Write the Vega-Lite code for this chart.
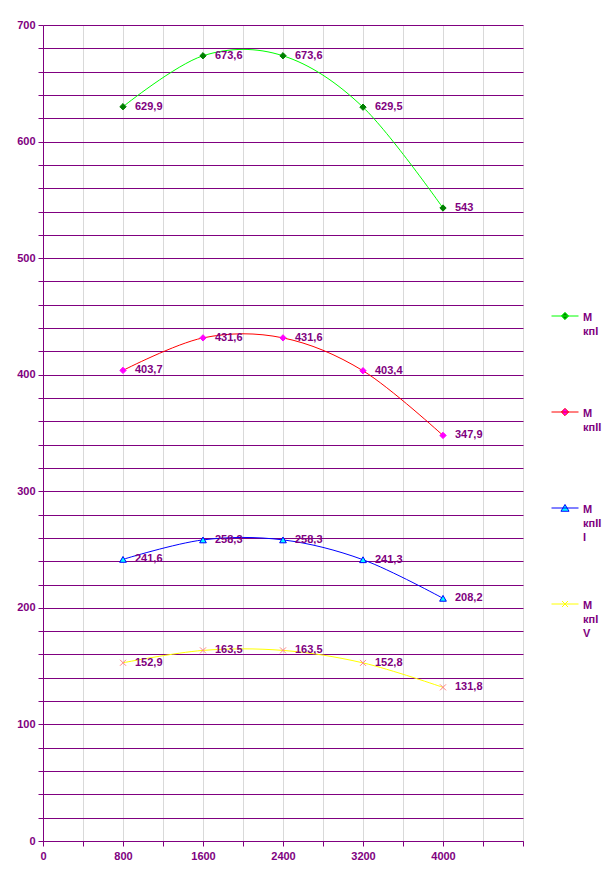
{
  "$schema": "https://vega.github.io/schema/vega-lite/v6.json",
  "autosize": "none",
  "width": 480,
  "height": 816,
  "padding": {"left": 43, "top": 25, "right": 87, "bottom": 43},
  "background": "white",
  "config": {
    "view": {"stroke": null},
    "locale": {"number": {"decimal": ",", "thousands": "", "grouping": [3], "currency": ["", ""]}},
    "font": "Liberation Sans"
  },
  "data": {
    "values": [
      {"series": "М кпI", "x": 800, "y": 629.9},
      {"series": "М кпI", "x": 1600, "y": 673.6},
      {"series": "М кпI", "x": 2400, "y": 673.6},
      {"series": "М кпI", "x": 3200, "y": 629.5},
      {"series": "М кпI", "x": 4000, "y": 543},
      {"series": "М кпII", "x": 800, "y": 403.7},
      {"series": "М кпII", "x": 1600, "y": 431.6},
      {"series": "М кпII", "x": 2400, "y": 431.6},
      {"series": "М кпII", "x": 3200, "y": 403.4},
      {"series": "М кпII", "x": 4000, "y": 347.9},
      {"series": "М кпIII", "x": 800, "y": 241.6},
      {"series": "М кпIII", "x": 1600, "y": 258.3},
      {"series": "М кпIII", "x": 2400, "y": 258.3},
      {"series": "М кпIII", "x": 3200, "y": 241.3},
      {"series": "М кпIII", "x": 4000, "y": 208.2},
      {"series": "М кпIV", "x": 800, "y": 152.9},
      {"series": "М кпIV", "x": 1600, "y": 163.5},
      {"series": "М кпIV", "x": 2400, "y": 163.5},
      {"series": "М кпIV", "x": 3200, "y": 152.8},
      {"series": "М кпIV", "x": 4000, "y": 131.8}
    ]
  },
  "encoding": {
    "x": {
      "field": "x", "type": "quantitative",
      "scale": {"domain": [0, 4800], "nice": false, "zero": true},
      "axis": {
        "title": null,
        "values": [0, 400, 800, 1200, 1600, 2000, 2400, 2800, 3200, 3600, 4000, 4400, 4800],
        "format": "d",
        "labelExpr": "(datum.value % 800 == 0 && datum.value < 4800) ? datum.label : ''",
        "grid": true, "gridColor": "#D9D9D9", "gridWidth": 1,
        "domainColor": "#800080", "domainWidth": 1,
        "tickColor": "#800080", "tickSize": 5, "tickWidth": 1,
        "labelColor": "#800080", "labelFont": "Liberation Sans", "labelFontSize": 11, "labelFontWeight": "bold",
        "labelPadding": 4, "labelFlush": false, "labelOverlap": false,
        "encode": {"ticks": {"update": {"opacity": {"signal": "datum.value % 800 == 0 ? 1 : 0"}}}}
      }
    },
    "y": {
      "field": "y", "type": "quantitative",
      "scale": {"domain": [0, 700], "nice": false},
      "axis": {
        "title": null,
        "values": [0, 20, 40, 60, 80, 100, 120, 140, 160, 180, 200, 220, 240, 260, 280, 300, 320, 340, 360, 380, 400, 420, 440, 460, 480, 500, 520, 540, 560, 580, 600, 620, 640, 660, 680, 700],
        "format": "d",
        "labelExpr": "datum.value % 100 == 0 ? datum.label : ''",
        "grid": true, "gridColor": "#800080", "gridWidth": 1,
        "domainColor": "#800080", "domainWidth": 1,
        "tickColor": "#800080", "tickSize": 5, "tickWidth": 1,
        "labelColor": "#800080", "labelFont": "Liberation Sans", "labelFontSize": 11, "labelFontWeight": "bold",
        "labelPadding": 3, "labelOverlap": false,
        "encode": {"ticks": {"update": {"opacity": {"signal": "datum.value % 100 == 0 ? 1 : 0"}}}}
      }
    }
  },
  "layer": [
    {
      "mark": {"type": "line", "interpolate": "cardinal", "strokeWidth": 1},
      "encoding": {
        "color": {
          "field": "series", "type": "nominal",
          "scale": {"domain": ["М кпI", "М кпII", "М кпIII", "М кпIV"], "range": ["#00FF00", "#FF0000", "#0000FF", "#FFFF00"]},
          "legend": {
            "title": null,
            "orient": "none",
            "legendX": 508,
            "legendY": 277,
            "padding": 0,
            "symbolSize": 729,
            "symbolStrokeWidth": 1,
            "labelFont": "Liberation Sans",
            "labelFontSize": 11,
            "labelFontWeight": "bold",
            "labelColor": "#800080",
            "labelOffset": 4,
            "labelBaseline": "top",
            "labelLimit": 0,
            "gridAlign": "all",
            "rowPadding": 47,
            "labelExpr": "datum.label == 'М кпIII' ? ['М', 'кпII', 'I'] : datum.label == 'М кпIV' ? ['М', 'кпI', 'V'] : split(datum.label, ' ')",
            "encode": {
              "labels": {"update": {"dy": {"value": -4}, "lineHeight": {"value": 14}}},
              "symbols": {"update": {
                "shape": {"signal": "datum.value == 'М кпIII' ? 'M-1,0H1M-0.3,0.24L0,-0.26L0.3,0.24Z' : datum.value == 'М кпIV' ? 'M-1,0H1M-0.22,-0.22L0.22,0.22M-0.22,0.22L0.22,-0.22' : 'M-1,0H1M0,-0.27L0.27,0L0,0.27L-0.27,0Z'"},
                "fill": {"signal": "datum.value == 'М кпI' ? '#008000' : datum.value == 'М кпII' ? '#FF00FF' : datum.value == 'М кпIII' ? '#00FFFF' : 'transparent'"},
                "stroke": {"signal": "datum.value == 'М кпI' ? '#00FF00' : datum.value == 'М кпII' ? '#FF0000' : datum.value == 'М кпIII' ? '#0000FF' : '#FFFF00'"},
                "strokeWidth": {"value": 1},
                "opacity": {"value": 1}
              }}
            }
          }
        }
      }
    },
    {
      "transform": [{"filter": "datum.series == 'М кпI'"}],
      "mark": {"type": "point", "shape": "diamond", "size": 40, "filled": true, "fill": "#008000", "stroke": "#008000", "strokeWidth": 1, "opacity": 1}
    },
    {
      "transform": [{"filter": "datum.series == 'М кпII'"}],
      "mark": {"type": "point", "shape": "diamond", "size": 40, "filled": true, "fill": "#FF00FF", "stroke": "#FF00FF", "strokeWidth": 1, "opacity": 1}
    },
    {
      "transform": [{"filter": "datum.series == 'М кпIII'"}],
      "mark": {"type": "point", "shape": "triangle-up", "size": 45, "filled": true, "fill": "#00FFFF", "stroke": "#0000FF", "strokeWidth": 1, "opacity": 1}
    },
    {
      "transform": [{"filter": "datum.series == 'М кпIV'"}],
      "mark": {"type": "point", "shape": "M-1,-1L1,1M-1,1L1,-1", "size": 36, "filled": false, "fill": "transparent", "stroke": "#FF8080", "strokeWidth": 1, "opacity": 1}
    },
    {
      "mark": {"type": "text", "align": "left", "baseline": "middle", "dx": 12, "font": "Liberation Sans", "fontSize": 11, "fontWeight": "bold", "color": "#800080"},
      "encoding": {
        "text": {"field": "y", "type": "quantitative", "format": ".1~f"}
      }
    }
  ]
}
